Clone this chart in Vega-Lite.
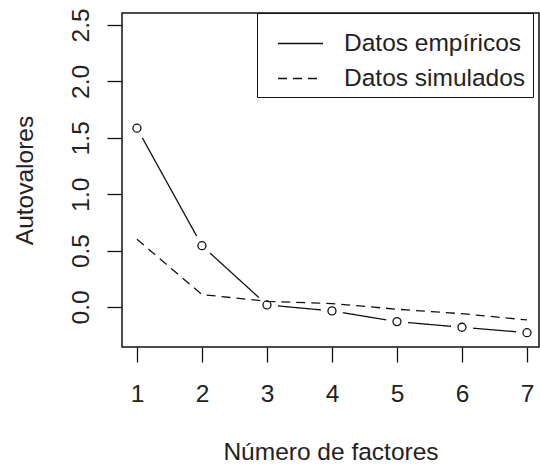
{
  "$schema": "https://vega.github.io/schema/vega-lite/v6.json",
  "autosize": "none",
  "padding": {"left": 122, "top": 13, "right": 1, "bottom": 121},
  "width": 417,
  "height": 334,
  "background": "white",
  "config": {
    "font": "Liberation Sans",
    "view": {"stroke": "#111", "strokeWidth": 1.5},
    "axis": {
      "domain": false,
      "grid": false,
      "labelFont": "Liberation Sans",
      "labelFontSize": 24.5,
      "labelColor": "#222",
      "labelOverlap": false,
      "labelFlush": false,
      "tickColor": "#111",
      "tickWidth": 1.3,
      "tickSize": 15,
      "titleFont": "Liberation Sans",
      "titleFontSize": 24.5,
      "titleFontWeight": "normal",
      "titleColor": "#222"
    },
    "legend": {
      "labelFont": "Liberation Sans",
      "labelFontSize": 24.5,
      "labelColor": "#222",
      "labelLimit": 400
    }
  },
  "data": {
    "values": [
      {"factor": 1, "valor": 1.585, "serie": "Datos empíricos"},
      {"factor": 2, "valor": 0.543, "serie": "Datos empíricos"},
      {"factor": 3, "valor": 0.018, "serie": "Datos empíricos"},
      {"factor": 4, "valor": -0.035, "serie": "Datos empíricos"},
      {"factor": 5, "valor": -0.13, "serie": "Datos empíricos"},
      {"factor": 6, "valor": -0.18, "serie": "Datos empíricos"},
      {"factor": 7, "valor": -0.228, "serie": "Datos empíricos"},
      {"factor": 1, "valor": 0.6, "serie": "Datos simulados"},
      {"factor": 2, "valor": 0.11, "serie": "Datos simulados"},
      {"factor": 3, "valor": 0.05, "serie": "Datos simulados"},
      {"factor": 4, "valor": 0.03, "serie": "Datos simulados"},
      {"factor": 5, "valor": -0.02, "serie": "Datos simulados"},
      {"factor": 6, "valor": -0.06, "serie": "Datos simulados"},
      {"factor": 7, "valor": -0.115, "serie": "Datos simulados"}
    ]
  },
  "encoding": {
    "x": {
      "field": "factor",
      "type": "quantitative",
      "scale": {"domain": [0.77, 7.185], "nice": false, "zero": false},
      "axis": {
        "values": [1, 2, 3, 4, 5, 6, 7],
        "title": "Número de factores",
        "labelPadding": 20,
        "titleY": 112,
        "titleBaseline": "alphabetic"
      }
    },
    "y": {
      "field": "valor",
      "type": "quantitative",
      "scale": {"domain": [-0.355, 2.606], "nice": false, "zero": false},
      "axis": {
        "values": [0, 0.5, 1, 1.5, 2, 2.5],
        "format": ".1f",
        "labelAngle": -90,
        "labelAlign": "center",
        "labelBaseline": "alphabetic",
        "labelPadding": 19,
        "title": "Autovalores",
        "titleX": -90,
        "titleY": 167,
        "titleAngle": -90,
        "titleAlign": "center",
        "titleBaseline": "alphabetic"
      }
    }
  },
  "layer": [
    {
      "transform": [{"filter": "datum.serie === 'Datos empíricos'"}],
      "mark": {"type": "line", "color": "#111", "strokeWidth": 1.3},
      "encoding": {
        "strokeDash": {
          "field": "serie",
          "type": "nominal",
          "scale": {"domain": ["Datos empíricos", "Datos simulados"], "range": [[1, 0], [9, 6]]},
          "legend": {
            "title": null,
            "orient": "none",
            "legendX": 135,
            "legendY": 0,
            "strokeColor": "#111",
            "fillColor": "white",
            "padding": 7,
            "symbolType": "stroke",
            "symbolSize": 2025,
            "symbolStrokeWidth": 1.3,
            "symbolStrokeColor": "#111",
            "symbolOffset": 13,
            "labelOffset": 20,
            "rowPadding": 0,
            "labelLimit": 400,
            "labelExpr": "datum.label + '\u00a0\u00a0'"
          }
        }
      }
    },
    {
      "transform": [{"filter": "datum.serie === 'Datos empíricos'"}],
      "mark": {"type": "point", "shape": "circle", "filled": true, "color": "white", "opacity": 1, "size": 490}
    },
    {
      "transform": [{"filter": "datum.serie === 'Datos empíricos'"}],
      "mark": {"type": "point", "shape": "circle", "filled": false, "color": "#111", "opacity": 1, "size": 64, "strokeWidth": 1.3}
    },
    {
      "transform": [{"filter": "datum.serie === 'Datos simulados'"}],
      "mark": {"type": "line", "color": "#111", "strokeWidth": 1.3},
      "encoding": {
        "strokeDash": {"field": "serie", "type": "nominal"}
      }
    }
  ]
}
